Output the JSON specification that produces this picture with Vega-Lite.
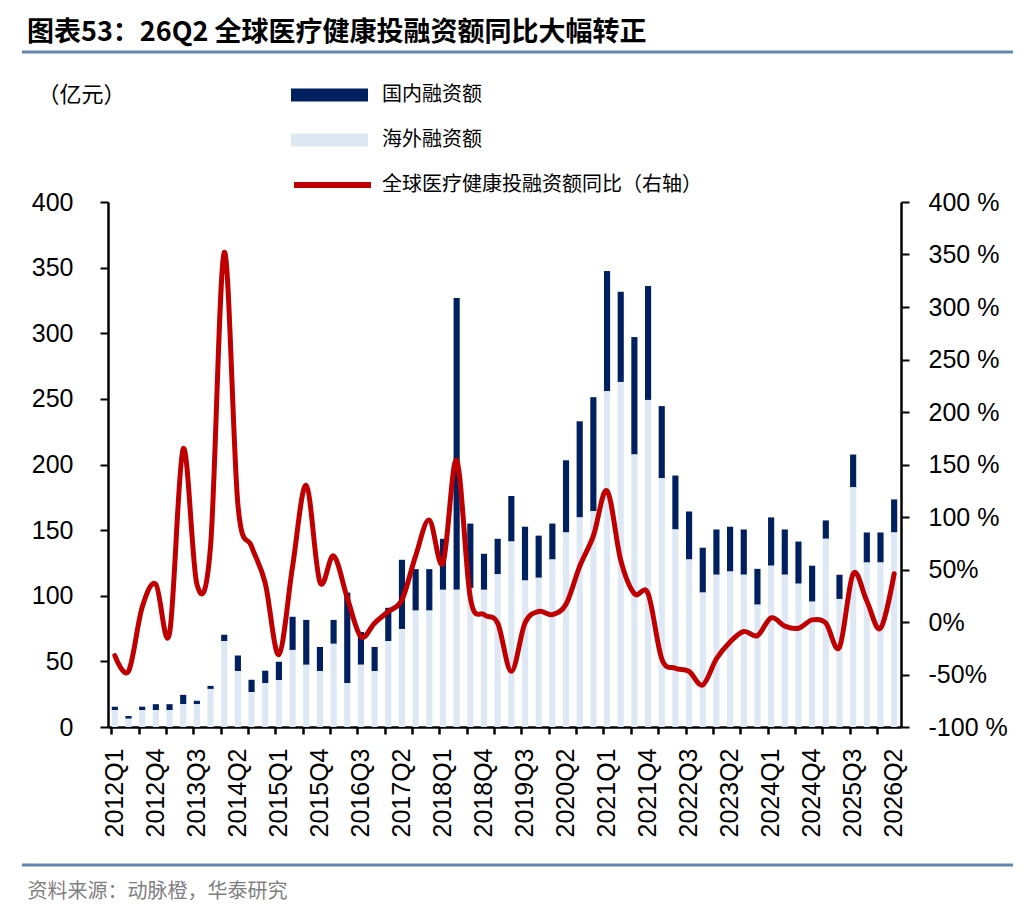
{
  "$schema": "https://vega.github.io/schema/vega-lite/v6.json",
  "autosize": "none",
  "width": 793,
  "height": 525,
  "padding": {"left": 108, "top": 202, "right": 135, "bottom": 189},
  "background": "white",
  "title": {
    "text": "图表53：26Q2 全球医疗健康投融资额同比大幅转正",
    "anchor": "start",
    "frame": "group",
    "dx": -81,
    "offset": 3,
    "font": "Noto Sans CJK SC",
    "fontSize": 27,
    "fontWeight": "bold",
    "color": "black"
  },
  "data": {
    "values": [
      {"q": "2012Q1", "ovs": 12.9, "dom": 2.6, "yoy": -32},
      {"q": "2012Q2", "ovs": 6.3, "dom": 2.1, "yoy": -47},
      {"q": "2012Q3", "ovs": 12.9, "dom": 2.6, "yoy": 14},
      {"q": "2012Q4", "ovs": 12.9, "dom": 4.5, "yoy": 36},
      {"q": "2013Q1", "ovs": 12.9, "dom": 4.5, "yoy": -11},
      {"q": "2013Q2", "ovs": 17.4, "dom": 7.1, "yoy": 165},
      {"q": "2013Q3", "ovs": 17.4, "dom": 2.6, "yoy": 36},
      {"q": "2013Q4", "ovs": 29.0, "dom": 2.3, "yoy": 72},
      {"q": "2014Q1", "ovs": 65.5, "dom": 4.8, "yoy": 352},
      {"q": "2014Q2", "ovs": 42.6, "dom": 11.9, "yoy": 112},
      {"q": "2014Q3", "ovs": 26.6, "dom": 9.4, "yoy": 72},
      {"q": "2014Q4", "ovs": 33.4, "dom": 9.5, "yoy": 37},
      {"q": "2015Q1", "ovs": 35.8, "dom": 13.9, "yoy": -31},
      {"q": "2015Q2", "ovs": 58.7, "dom": 25.3, "yoy": 53},
      {"q": "2015Q3", "ovs": 47.4, "dom": 34.2, "yoy": 130},
      {"q": "2015Q4", "ovs": 42.6, "dom": 18.4, "yoy": 38},
      {"q": "2016Q1", "ovs": 63.4, "dom": 18.2, "yoy": 63},
      {"q": "2016Q2", "ovs": 33.4, "dom": 69.0, "yoy": 23},
      {"q": "2016Q3", "ovs": 47.4, "dom": 25.0, "yoy": -14},
      {"q": "2016Q4", "ovs": 42.6, "dom": 18.4, "yoy": -1},
      {"q": "2017Q1", "ovs": 65.5, "dom": 25.3, "yoy": 10},
      {"q": "2017Q2", "ovs": 74.7, "dom": 52.7, "yoy": 21},
      {"q": "2017Q3", "ovs": 88.7, "dom": 31.6, "yoy": 63},
      {"q": "2017Q4", "ovs": 88.7, "dom": 31.6, "yoy": 97},
      {"q": "2018Q1", "ovs": 104.5, "dom": 38.9, "yoy": 56},
      {"q": "2018Q2", "ovs": 104.5, "dom": 222.3, "yoy": 154},
      {"q": "2018Q3", "ovs": 106.0, "dom": 49.0, "yoy": 23},
      {"q": "2018Q4", "ovs": 104.5, "dom": 27.5, "yoy": 7},
      {"q": "2019Q1", "ovs": 116.3, "dom": 27.1, "yoy": -1},
      {"q": "2019Q2", "ovs": 141.3, "dom": 34.7, "yoy": -47},
      {"q": "2019Q3", "ovs": 111.6, "dom": 41.0, "yoy": -1},
      {"q": "2019Q4", "ovs": 113.7, "dom": 32.1, "yoy": 10},
      {"q": "2020Q1", "ovs": 127.6, "dom": 27.4, "yoy": 7},
      {"q": "2020Q2", "ovs": 148.2, "dom": 55.0, "yoy": 17},
      {"q": "2020Q3", "ovs": 159.7, "dom": 73.2, "yoy": 53},
      {"q": "2020Q4", "ovs": 164.5, "dom": 86.8, "yoy": 82},
      {"q": "2021Q1", "ovs": 255.8, "dom": 91.6, "yoy": 125},
      {"q": "2021Q2", "ovs": 262.9, "dom": 68.7, "yoy": 59},
      {"q": "2021Q3", "ovs": 207.6, "dom": 89.5, "yoy": 27},
      {"q": "2021Q4", "ovs": 249.2, "dom": 86.8, "yoy": 27},
      {"q": "2022Q1", "ovs": 189.5, "dom": 55.0, "yoy": -35},
      {"q": "2022Q2", "ovs": 150.5, "dom": 41.1, "yoy": -44},
      {"q": "2022Q3", "ovs": 127.6, "dom": 36.6, "yoy": -47},
      {"q": "2022Q4", "ovs": 102.4, "dom": 34.2, "yoy": -60},
      {"q": "2023Q1", "ovs": 116.0, "dom": 34.5, "yoy": -35},
      {"q": "2023Q2", "ovs": 118.4, "dom": 34.2, "yoy": -19},
      {"q": "2023Q3", "ovs": 116.0, "dom": 34.5, "yoy": -9},
      {"q": "2023Q4", "ovs": 93.2, "dom": 27.3, "yoy": -13},
      {"q": "2024Q1", "ovs": 122.9, "dom": 36.8, "yoy": 4},
      {"q": "2024Q2", "ovs": 116.0, "dom": 34.5, "yoy": -4},
      {"q": "2024Q3", "ovs": 109.2, "dom": 32.1, "yoy": -6},
      {"q": "2024Q4", "ovs": 95.5, "dom": 27.4, "yoy": 2},
      {"q": "2025Q1", "ovs": 143.4, "dom": 14.0, "yoy": -1},
      {"q": "2025Q2", "ovs": 97.6, "dom": 18.4, "yoy": -24},
      {"q": "2025Q3", "ovs": 182.6, "dom": 25.0, "yoy": 46},
      {"q": "2025Q4", "ovs": 125.3, "dom": 22.9, "yoy": 20},
      {"q": "2026Q1", "ovs": 125.3, "dom": 22.9, "yoy": -6},
      {"q": "2026Q2", "ovs": 148.2, "dom": 25.2, "yoy": 46}
    ]
  },
  "layer": [
    {
      "layer": [
        {
          "transform": [{"fold": ["dom", "ovs"], "as": ["s", "v"]}],
          "mark": {"type": "bar"},
          "encoding": {
            "x": {
              "field": "q",
              "type": "nominal",
              "sort": null,
              "scale": {"paddingInner": 0.55, "paddingOuter": 0.275},
              "axis": {
                "title": "资料来源：动脉橙，华泰研究",
                "titleX": -81,
                "titleY": 164,
                "titleAlign": "left",
                "titleBaseline": "middle",
                "titleAngle": 0,
                "titleFont": "Noto Sans CJK SC",
                "titleFontSize": 20,
                "titleFontWeight": "normal",
                "titleColor": "#7F7F7F",
                "labelAngle": -90,
                "labelFont": "Liberation Sans",
                "labelFontSize": 25,
                "labelColor": "black",
                "labelPadding": 14,
                "labelOverlap": false,
                "labelExpr": "isString(datum.value) && ((toNumber(substring(datum.value, 0, 4)) - 2012) * 4 + toNumber(substring(datum.value, 5, 6)) - 1) % 3 == 0 ? datum.value : ''",
                "domainColor": "black",
                "domainWidth": 2.5,
                "ticks": true,
                "tickSize": 7,
                "tickOpacity": 0
              }
            },
            "y": {
              "field": "v",
              "type": "quantitative",
              "stack": "zero",
              "scale": {"domain": [0, 400], "nice": false},
              "axis": {
                "values": [0, 50, 100, 150, 200, 250, 300, 350, 400],
                "title": "（亿元）",
                "titleAngle": 0,
                "titleX": -71,
                "titleY": -108,
                "titleAlign": "left",
                "titleBaseline": "middle",
                "titleFont": "Noto Sans CJK SC",
                "titleFontSize": 22,
                "titleFontWeight": "normal",
                "titleColor": "black",
                "labelFont": "Liberation Sans",
                "labelFontSize": 25,
                "labelColor": "black",
                "labelPadding": 27,
                "tickSize": 8,
                "tickWidth": 2,
                "tickColor": "black",
                "domainColor": "black",
                "domainWidth": 2.5,
                "grid": false
              }
            },
            "color": {
              "field": "s",
              "type": "nominal",
              "scale": {"domain": ["dom", "ovs"], "range": ["#002060", "#DDE8F4"]},
              "legend": {
                "title": null,
                "orient": "none",
                "legendX": 183,
                "legendY": -117,
                "direction": "vertical",
                "padding": 0,
                "symbolType": "M-1,-0.17H1V0.17H-1Z",
                "symbolSize": 5929,
                "symbolStrokeWidth": 0,
                "symbolOpacity": 1,
                "clipHeight": 20,
                "rowPadding": 25,
                "labelOffset": 14,
                "labelFont": "Noto Sans CJK SC",
                "labelFontSize": 20,
                "labelColor": "black",
                "labelExpr": "datum.value == 'dom' ? '国内融资额' : '海外融资额'"
              }
            },
            "order": {"field": "s", "sort": "descending"}
          }
        },
        {
          "mark": {"type": "line", "interpolate": "cardinal", "strokeWidth": 5, "strokeCap": "round"},
          "encoding": {
            "x": {
              "field": "q",
              "type": "nominal",
              "sort": null,
              "scale": {"type": "band", "paddingInner": 0.55, "paddingOuter": 0.275},
              "axis": {
                "orient": "bottom",
                "values": ["2012Q1", "2012Q3", "2013Q1", "2013Q3", "2014Q1", "2014Q3", "2015Q1", "2015Q3", "2016Q1", "2016Q3", "2017Q1", "2017Q3", "2018Q1", "2018Q3", "2019Q1", "2019Q3", "2020Q1", "2020Q3", "2021Q1", "2021Q3", "2022Q1", "2022Q3", "2023Q1", "2023Q3", "2024Q1", "2024Q3", "2025Q1", "2025Q3", "2026Q1"],
                "bandPosition": 0,
                "title": null,
                "labels": false,
                "domain": false,
                "grid": false,
                "ticks": true,
                "tickSize": 7,
                "tickWidth": 2.5,
                "tickColor": "black"
              }
            },
            "y": {
              "field": "yoy",
              "type": "quantitative",
              "scale": {"domain": [-100, 400], "nice": false},
              "axis": {
                "orient": "right",
                "values": [-100, -50, 0, 50, 100, 150, 200, 250, 300, 350, 400],
                "title": null,
                "labelExpr": "abs(datum.value) >= 100 ? datum.value + ' %' : datum.value + '%'",
                "labelFont": "Liberation Sans",
                "labelFontSize": 25,
                "labelColor": "black",
                "labelPadding": 19,
                "tickSize": 8,
                "tickWidth": 2,
                "tickColor": "black",
                "domainColor": "black",
                "domainWidth": 2.5,
                "grid": false
              }
            },
            "stroke": {
              "datum": "全球医疗健康投融资额同比（右轴）",
              "type": "nominal",
              "scale": {"range": ["#C00000"]},
              "legend": {
                "title": null,
                "orient": "none",
                "legendX": 183,
                "legendY": -27,
                "padding": 0,
                "symbolType": "stroke",
                "symbolSize": 5929,
                "symbolStrokeWidth": 6,
                "clipHeight": 20,
                "labelOffset": 8,
                "labelLimit": 500,
                "labelFont": "Noto Sans CJK SC",
                "labelFontSize": 20,
                "labelColor": "black"
              }
            }
          }
        }
      ],
      "resolve": {"scale": {"x": "independent", "y": "independent"}}
    },
    {
      "data": {"values": [{}]},
      "mark": {"type": "rule", "clip": false, "color": "#6585B0", "strokeWidth": 3},
      "encoding": {
        "x": {"datum": -0.1085, "type": "quantitative", "scale": {"domain": [0, 1]}, "axis": null},
        "x2": {"datum": 1.1412},
        "y": {"datum": 514.3, "type": "quantitative", "scale": {"domain": [0, 400], "nice": false}, "axis": null}
      }
    },
    {
      "data": {"values": [{}]},
      "mark": {"type": "rule", "clip": false, "color": "#6585B0", "strokeWidth": 3},
      "encoding": {
        "x": {"datum": -0.1085, "type": "quantitative", "scale": {"domain": [0, 1]}, "axis": null},
        "x2": {"datum": 1.1412},
        "y": {"datum": -105.1, "type": "quantitative", "scale": {"domain": [0, 400], "nice": false}, "axis": null}
      }
    }
  ],
  "resolve": {"scale": {"x": "independent", "y": "independent"}},
  "config": {
    "view": {"stroke": null}
  }
}
